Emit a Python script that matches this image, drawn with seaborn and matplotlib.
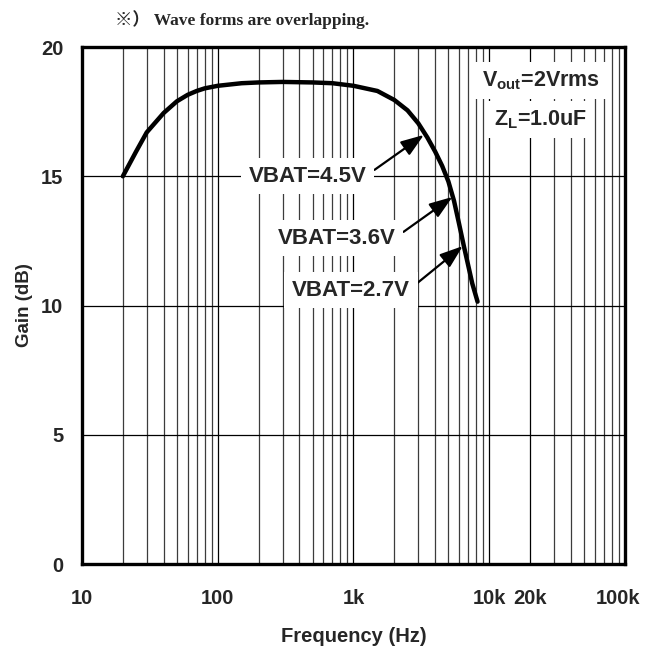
import numpy as np
import pandas as pd
import matplotlib
matplotlib.use("Agg")
import matplotlib.pyplot as plt
import matplotlib.ticker as mticker
from matplotlib.transforms import ScaledTranslation
import seaborn as sns

# Gain vs. frequency (the three VBAT curves coincide)
freq_hz = [20, 25, 30, 40, 50, 60, 70, 80, 100, 150, 200, 300, 500, 700,
           1000, 1500, 2000, 2500, 3000, 3500, 4000, 4500, 5000, 5500, 6000,
           6500, 7000, 7500, 8200]
gain_db = [15.0, 15.95, 16.7, 17.45, 17.9, 18.15, 18.3, 18.4, 18.5, 18.6,
           18.63, 18.65, 18.63, 18.6, 18.5, 18.3, 17.95, 17.55, 17.05, 16.5,
           15.95, 15.4, 14.8, 14.05, 13.15, 12.3, 11.55, 10.85, 10.15]

x_ticks = [10, 100, 1000, 10000, 20000, 100000]
x_tick_labels = ["10", "100", "1k", "10k", "20k", "100k"]
y_ticks = [0, 5, 10, 15, 20]

# VBAT labels: text anchor (Hz, dB) and arrow target on the curve (Hz, dB)
vbat_labels = ["VBAT=4.5V", "VBAT=3.6V", "VBAT=2.7V"]
vbat_text_pos = [(462, 15.0), (756, 12.6), (959, 10.6)]
vbat_arrow_tip = [(3300, 16.6), (5350, 14.2), (6380, 12.3)]

sns.set_style("white")
plt.rcParams["font.family"] = ["Liberation Sans", "DejaVu Sans"]
plt.rcParams["font.weight"] = "bold"
plt.rcParams["mathtext.fontset"] = "custom"
plt.rcParams["mathtext.rm"] = "Liberation Sans:bold"
plt.rcParams["mathtext.it"] = "Liberation Sans:bold"
plt.rcParams["mathtext.bf"] = "Liberation Sans:bold"

df = pd.DataFrame({"Frequency": freq_hz, "Gain": gain_db})

fig = plt.figure(figsize=(6.45, 6.55), dpi=100)
ax = fig.add_axes([0.1271, 0.1389, 0.8419, 0.7893])

ax.set_xscale("log")
ax.set_xlim(10, 100000)
ax.set_ylim(0, 20)

# grid
ax.xaxis.set_minor_locator(mticker.LogLocator(base=10, subs=np.arange(2, 10), numticks=20))
ax.xaxis.set_minor_formatter(mticker.NullFormatter())
ax.set_xticks(x_ticks)
ax.set_xticklabels(x_tick_labels)
ax.set_yticks(y_ticks)
ax.grid(which="major", axis="both", color="black", lw=0.9)
ax.grid(which="minor", axis="x", color="#3c3c3c", lw=0.9)
ax.set_axisbelow(True)

sns.lineplot(data=df, x="Frequency", y="Gain", ax=ax, color="black", lw=3.2,
             legend=False, zorder=3)

ax.tick_params(axis="both", which="both", length=0)
ax.tick_params(axis="x", pad=18, labelsize=14.5)
ax.tick_params(axis="y", pad=13.5, labelsize=14.5)
for lab in ax.get_xticklabels() + ax.get_yticklabels():
    lab.set_fontweight("bold")

# nudge the last frequency label inward so it stays inside the figure
last = ax.xaxis.get_major_ticks()[-1].label1
last.set_transform(last.get_transform() + ScaledTranslation(-5 / 72, 0, fig.dpi_scale_trans))

ax.set_xlabel("Frequency (Hz)", fontsize=14.5, fontweight="bold", labelpad=14)
ax.set_ylabel("Gain (dB)", fontsize=13.5, fontweight="bold", labelpad=6)

for sp in ax.spines.values():
    sp.set_color("black")
    sp.set_linewidth(2.4)
    sp.set_zorder(5)

vbat_box = dict(facecolor="white", edgecolor="none", pad=5.5)
cond_box = dict(facecolor="white", edgecolor="none", pad=5)

for label, (tx, ty), (px, py) in zip(vbat_labels, vbat_text_pos, vbat_arrow_tip):
    ax.annotate(label, xy=(px, py), xytext=(tx, ty), xycoords="data",
                textcoords="data", ha="center", va="center", fontsize=16,
                fontweight="bold", bbox=vbat_box, zorder=4,
                arrowprops=dict(arrowstyle="-|>,head_length=0.7,head_width=0.25",
                                mutation_scale=20, color="black", lw=1.6,
                                relpos=(1.0, 0.55), shrinkA=0, shrinkB=0))

ax.text(24000, 18.7, "V$_{out}$=2Vrms", ha="center", va="center",
        fontsize=15.5, fontweight="bold", bbox=cond_box, zorder=4)
ax.text(24000, 17.2, "Z$_{L}$=1.0uF", ha="center", va="center",
        fontsize=15.5, fontweight="bold", bbox=cond_box, zorder=4)

fig.text(115 / 645, 1 - 20 / 655, "※） Wave forms are overlapping.",
         family=["Liberation Serif", "Noto Sans CJK JP"], fontweight="bold",
         fontsize=12.5, ha="left", va="center")

fig.savefig("out.png", dpi=100, facecolor="white")
